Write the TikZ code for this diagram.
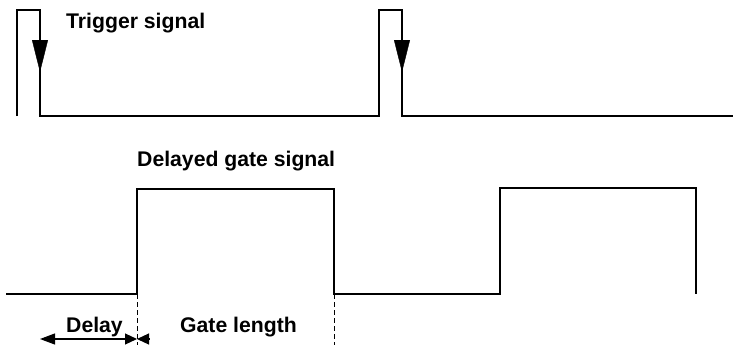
\documentclass[tikz,border=0pt]{standalone}
\usepackage{fontspec}
\setmainfont{Liberation Sans}
\usetikzlibrary{arrows.meta}

\begin{document}
\begin{tikzpicture}[x=1pt,y=-1pt]
    \tikzset{
      wave/.style={line width=1.5pt},
      marker/.style={-{Triangle[length=32pt,width=16pt]}},
      guide/.style={line width=0.8pt, dash pattern=on 5pt off 3pt},
      span/.style={line width=1.1pt, {Triangle[length=15pt,width=11pt]}-{Triangle[length=12pt,width=11pt]}},
      half/.style={line width=1.1pt, -{Triangle[length=12pt,width=11pt]}},
      lbl/.style={anchor=base west, inner sep=0pt, font=\bfseries\fontsize{21.2}{25}\selectfont}
    }
    \useasboundingbox (0,0) rectangle (734,349);

    % Trigger: zwei kurze Pulse, Pfeil auf der fallenden Flanke
    \draw[wave] (17,116) -- (17,10) -- (40,10) -- (40,116) -- (379,116)
                -- (379,10) -- (402,10) -- (402,116) -- (733,116);
    \draw[marker] (40,40) -- (40,72);
    \draw[marker] (402,40) -- (402,72);
    \node[lbl] (trig) at (66,28) {Trigger signal};

    % Gate: verzoegert, fester Laenge
    \coordinate (up1) at (137,294);
    \coordinate (dn1) at (334,294);
    \draw[wave] (6,294) -- (up1) -- (137,189) -- (334,189) -- (dn1) -- (500,294)
                -- (500,188) -- (696,188) -- (696,294);
    \node[lbl] (gate) at (137,166) {Delayed gate signal};

    % Masse unter dem ersten Gate
    \coordinate (up1b) at (137,345);
    \coordinate (dn1b) at (334,345);
    \draw[guide] (up1) -- (up1b);
    \draw[guide] (dn1) -- (dn1b);
    \coordinate (dstart) at (40,339);
    \coordinate (dend) at (137,339);
    \coordinate (gstart) at (149,339);
    \draw[span] (dstart) -- (dend);
    \draw[half] (gstart) -- (dend);
    \node[lbl] (delay) at (66,332) {Delay};
    \node[lbl] (glen) at (180,332) {Gate length};
  \end{tikzpicture}
\end{document}
